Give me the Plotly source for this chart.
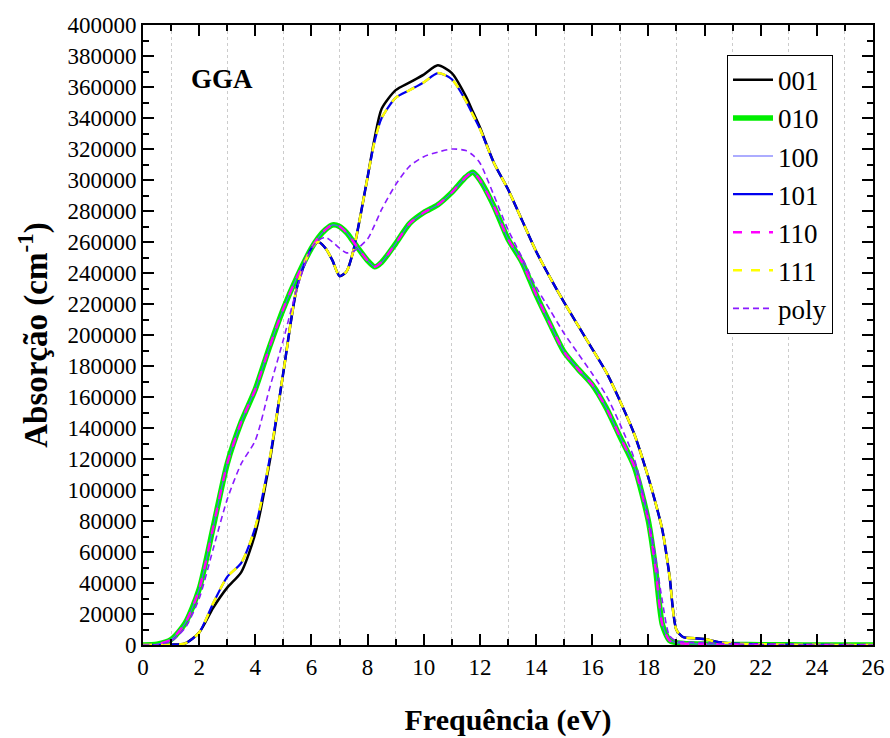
import plotly.graph_objects as go

energy = [0, 0.5, 1, 1.5, 2, 2.5, 3, 3.5, 4, 4.5, 5, 5.5, 6, 6.25, 6.5, 6.75, 7, 7.25, 7.5,
          8, 8.25, 8.5, 9, 9.5, 10, 10.5, 11, 11.5, 11.75, 12, 12.5, 13, 13.5, 14, 14.5,
          15, 15.5, 16, 16.5, 17, 17.5, 18, 18.25, 18.5, 18.75, 19, 19.25, 19.5, 20, 20.5,
          21, 22, 23, 24, 25, 26]

abs_001 = [0, 0, 200, 1000, 8000, 24000, 37000, 47000, 72000, 117000, 176000, 232000, 256000,
           260000, 256000, 248000, 238000, 241000, 255000, 302000, 327000, 346000, 358000,
           363000, 368000, 374000, 369000, 354000, 344000, 334000, 311000, 294000, 274000,
           254000, 237000, 221000, 206000, 191000, 176000, 157000, 136000, 108000, 92000,
           74000, 45000, 9700, 5000, 4500, 3800, 1800, 1000, 500, 200, 100, 0, 0]

abs_010 = [0, 500, 3500, 14000, 36000, 76000, 117000, 144000, 165000, 192000, 217000, 238000,
           256000, 263000, 268000, 271000, 270000, 266000, 260000, 248000, 244000, 247000,
           259000, 272000, 279000, 284000, 292000, 302000, 305000, 300000, 283000, 262000,
           247000, 226000, 207000, 189000, 178000, 168000, 153000, 134000, 115000, 80000,
           50000, 13000, 3000, 1500, 1000, 800, 600, 400, 300, 200, 100, 0, 0, 0]

abs_100 = [0, 500, 3500, 14000, 36000, 76000, 117000, 144000, 165000, 192000, 217000, 238000,
           256000, 263000, 268000, 271000, 270000, 266000, 260000, 248000, 244000, 247000,
           259000, 272000, 279000, 284000, 292000, 302000, 305000, 300000, 283000, 262000,
           247000, 226000, 207000, 189000, 178000, 168000, 153000, 134000, 115000, 80000,
           50000, 13000, 3000, 1500, 1000, 800, 600, 400, 300, 200, 100, 0, 0, 0]

abs_101 = [0, 0, 200, 1000, 8000, 27000, 44000, 53000, 76000, 119000, 176000, 232000, 256000,
           260000, 256000, 248000, 238000, 241000, 255000, 302000, 325000, 340000, 353000,
           358000, 363000, 369000, 365000, 351000, 342000, 333000, 311000, 294000, 274000,
           254000, 237000, 221000, 206000, 191000, 176000, 157000, 136000, 108000, 92000,
           74000, 45000, 9700, 5000, 4500, 3800, 1800, 1000, 500, 200, 100, 0, 0]

abs_110 = [0, 500, 3500, 14000, 36000, 76000, 117000, 144000, 165000, 192000, 217000, 238000,
           256000, 263000, 268000, 271000, 270000, 266000, 260000, 248000, 244000, 247000,
           259000, 272000, 279000, 284000, 292000, 302000, 305000, 300000, 283000, 262000,
           247000, 226000, 207000, 189000, 178000, 168000, 153000, 134000, 115000, 80000,
           50000, 13000, 3000, 1500, 1000, 800, 600, 400, 300, 200, 100, 0, 0, 0]

abs_111 = [0, 0, 200, 1000, 8000, 27000, 44000, 53000, 76000, 119000, 176000, 232000, 256000,
           260000, 256000, 248000, 238000, 241000, 255000, 302000, 325000, 340000, 353000,
           358000, 363000, 369000, 365000, 351000, 342000, 333000, 311000, 294000, 274000,
           254000, 237000, 221000, 206000, 191000, 176000, 157000, 136000, 108000, 92000,
           74000, 45000, 9700, 5000, 4500, 3800, 1800, 1000, 500, 200, 100, 0, 0]

abs_poly = [0, 300, 2500, 11000, 30000, 62000, 94000, 117000, 132000, 165000, 197000, 231000,
            256000, 261000, 263000, 260000, 256000, 253000, 254000, 262000, 271000, 281000,
            297000, 309000, 315000, 318000, 320000, 319000, 316000, 311000, 290000, 268000,
            250000, 231000, 216000, 201000, 188000, 175000, 161000, 142000, 120000, 82000,
            57000, 28000, 6000, 2500, 2000, 1800, 1500, 1000, 700, 300, 100, 0, 0, 0]

series_names = ["001", "010", "100", "101", "110", "111", "poly"]
series_values = [abs_001, abs_010, abs_100, abs_101, abs_110, abs_111, abs_poly]
styles = [
    dict(color="#000000", width=2.5, dash="solid"),
    dict(color="#00ee00", width=5.5, dash="solid"),
    dict(color="#5a5aff", width=1.2, dash="solid"),
    dict(color="#0000ee", width=2.2, dash="solid"),
    dict(color="#ff00ff", width=2.5, dash="dash"),
    dict(color="#ffff00", width=2.5, dash="dash"),
    dict(color="#8a1aff", width=1.6, dash="6px,4px"),
]

FONT = "Liberation Serif, Times New Roman, DejaVu Serif, serif"

fig = go.Figure()
for name, vals, st in zip(series_names, series_values, styles):
    fig.add_trace(go.Scatter(
        x=energy, y=vals, name=name, mode="lines",
        line=dict(color=st["color"], width=st["width"], dash=st["dash"],
                  shape="spline", smoothing=0.7),
    ))

fig.add_annotation(x=2.8, y=365000, text="<b>GGA</b>", showarrow=False,
                   xanchor="center", yanchor="middle",
                   font=dict(family=FONT, size=27, color="black"))

axis_common = dict(
    showline=True, linecolor="black", linewidth=2, mirror="allticks",
    ticks="inside", tickcolor="black", tickwidth=2, zeroline=False,
    automargin=False,
    tickfont=dict(family=FONT, size=23, color="black"),
)

fig.update_xaxes(
    range=[0, 26], tick0=0, dtick=2, ticklen=11, showgrid=False,
    minor=dict(tick0=1, dtick=2, ticks="inside", ticklen=6, tickcolor="black",
               showgrid=True, gridcolor="#cccccc", griddash="dot", gridwidth=1),
    title=dict(text="<b>Frequência (eV)</b>", standoff=30,
               font=dict(family=FONT, size=30, color="black")),
    **axis_common,
)
fig.update_yaxes(
    range=[0, 400000], tick0=0, dtick=20000, ticklen=11, showgrid=False,
    minor=dict(dtick=10000, ticks="inside", ticklen=6, tickcolor="black", showgrid=False),
    tickformat="d",
    title=dict(text="<b>Absorção (cm<sup>-1</sup>)</b>", standoff=10,
               font=dict(family=FONT, size=33, color="black")),
    **axis_common,
)

fig.update_layout(
    width=890, height=738,
    margin=dict(l=143, r=17, t=25, b=93),
    paper_bgcolor="white", plot_bgcolor="white",
    font=dict(family=FONT, color="black"),
    showlegend=True,
    legend=dict(x=0.8, y=0.952, xanchor="left", yanchor="top",
                bordercolor="black", borderwidth=1, bgcolor="white",
                font=dict(family=FONT, size=27, color="black"),
                itemwidth=40, tracegroupgap=0),
)

fig.write_html("out.html")
